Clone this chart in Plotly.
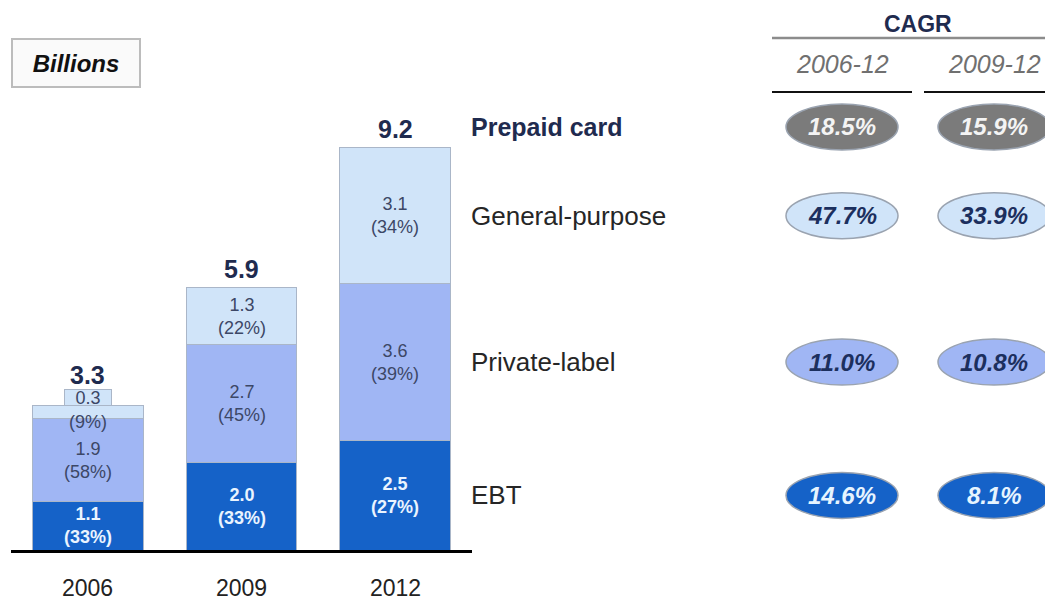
import plotly.graph_objects as go

# prepaid card volume, billions
years = ["2006", "2009", "2012"]
ebt = [1.1, 2.0, 2.5]
private_label = [1.9, 2.7, 3.6]
general_purpose = [0.3, 1.3, 3.1]
totals = [3.3, 5.9, 9.2]
ebt_pct = [33, 33, 27]
private_pct = [58, 45, 39]
general_pct = [9, 22, 34]

# CAGR table
rows = ["Prepaid card", "General-purpose", "Private-label", "EBT"]
cagr_06_12 = [18.5, 47.7, 11.0, 14.6]
cagr_09_12 = [15.9, 33.9, 10.8, 8.1]
periods = ["2006-12", "2009-12"]

# the page body adds an 8px margin, so the figure is drawn 8px smaller
OFF = 8
W, H = 1053 - OFF, 605 - OFF


def px(x):
    return (x - OFF) / W


def py(y):
    return 1 - (y - OFF) / H


FONT = "Liberation Sans, Arial, sans-serif"
NAVY = "#1f2b4f"
C_EBT = "#1562c8"
C_PL = "#a0b6f4"
C_GP = "#d0e4f9"
C_TOT = "#7b7b7b"
UNIT = 43.7  # pixels per billion
BASE = 550   # baseline, reference pixels

fig = go.Figure()
series = [
    ("EBT", ebt, C_EBT),
    ("Private-label", private_label, C_PL),
    ("General-purpose", general_purpose, C_GP),
]
for name, vals, col in series:
    fig.add_trace(go.Bar(
        x=years, y=vals, name=name,
        marker=dict(color=col, line=dict(color="#aab6c8", width=1)),
        hoverinfo="skip",
    ))

annotations = []
shapes = []

# segment labels (x given as category index)
for i, yr in enumerate(years):
    base = 0
    for (name, vals, col), pcts in zip(series, [ebt_pct, private_pct, general_pct]):
        mid = base + vals[i] / 2
        if name == "EBT":
            txt = f"<b>{vals[i]:.1f}<br>({pcts[i]}%)</b>"
            fcol = "#eaf4ff"
        else:
            txt = f"{vals[i]:.1f}<br>({pcts[i]}%)"
            fcol = "#3c4766"
        if name == "General-purpose" and vals[i] < 0.5:
            # value too small for the bar: label in a small tab on top
            top = base + vals[i]
            annotations.append(dict(
                x=i, y=top, xref="x", yref="y", xanchor="center", yanchor="bottom",
                text=f"{vals[i]:.1f}", showarrow=False,
                font=dict(family=FONT, size=18, color=fcol),
                bgcolor=C_GP, bordercolor="#aab6c8", borderwidth=1,
                width=46, height=15, borderpad=0,
            ))
            annotations.append(dict(
                x=i, y=top, xref="x", yref="y", xanchor="center", yanchor="top",
                yshift=-4,
                text=f"({pcts[i]}%)", showarrow=False,
                font=dict(family=FONT, size=18, color=fcol),
            ))
        else:
            annotations.append(dict(
                x=i, y=mid, xref="x", yref="y", xanchor="center", yanchor="middle",
                text=txt, showarrow=False,
                font=dict(family=FONT, size=18, color=fcol),
            ))
        base += vals[i]
    annotations.append(dict(
        x=i, y=base, xref="x", yref="y", xanchor="center", yanchor="bottom",
        yshift=15 if i == 0 else 3,
        text=f"<b>{totals[i]:.1f}</b>", showarrow=False,
        font=dict(family=FONT, size=25, color=NAVY),
    ))

# category labels under the axis
for i, yr in enumerate(years):
    annotations.append(dict(
        x=i, y=py(588), xref="x", yref="paper", xanchor="center", yanchor="middle",
        text=yr, showarrow=False,
        font=dict(family=FONT, size=23, color="#222222"),
    ))

# row labels and CAGR ellipses, aligned with the 2012 segments
mids_2012 = []
b = 0
for vals in [ebt, private_label, general_purpose]:
    mids_2012.append(b + vals[2] / 2)
    b += vals[2]
row_y = [None, mids_2012[2], mids_2012[1], mids_2012[0]]
row_fill = [C_TOT, C_GP, C_PL, C_EBT]
row_text = ["#f4f4f4", "#1c2f5e", "#1c2f5e", "#e6f4ff"]
col_x = [px(842), px(994)]

for r, name in enumerate(rows):
    if r == 0:
        yref, yval = "paper", py(127)
    else:
        yref, yval = "y", row_y[r]
    label = f"<b>{name}</b>" if r == 0 else name
    annotations.append(dict(
        x=px(469), y=yval, xref="paper", yref=yref, xanchor="left", yanchor="middle",
        text=label, showarrow=False,
        font=dict(family=FONT, size=26 if r else 25, color=NAVY if r == 0 else "#262626"),
    ))
    for c, vals in enumerate([cagr_06_12, cagr_09_12]):
        shapes.append(dict(
            type="circle", xref="paper", yref=yref,
            xsizemode="pixel", ysizemode="pixel",
            xanchor=col_x[c], yanchor=yval,
            x0=-56, x1=56, y0=-23, y1=23,
            fillcolor=row_fill[r], line=dict(color="#9aa3b0", width=1.5),
            layer="below",
        ))
        annotations.append(dict(
            x=col_x[c], y=yval, xref="paper", yref=yref,
            xanchor="center", yanchor="middle",
            text=f"<b><i>{vals[r]:.1f}%</i></b>", showarrow=False,
            font=dict(family=FONT, size=24, color=row_text[r]),
        ))

# CAGR header
annotations.append(dict(
    x=px(918), y=py(24), xref="paper", yref="paper",
    xanchor="center", yanchor="middle",
    text="<b>CAGR</b>", showarrow=False,
    font=dict(family=FONT, size=23, color=NAVY),
))
for c, p in enumerate(periods):
    annotations.append(dict(
        x=col_x[c], y=py(64), xref="paper", yref="paper",
        xanchor="center", yanchor="middle",
        text=f"<i>{p}</i>", showarrow=False,
        font=dict(family=FONT, size=25, color="#707070"),
    ))
shapes.append(dict(type="line", xref="paper", yref="paper",
                   x0=px(772), x1=1, y0=py(38), y1=py(38),
                   line=dict(color="#8c8c8c", width=2.5)))
for x0, x1 in [(772, 912), (924, 1053)]:
    shapes.append(dict(type="line", xref="paper", yref="paper",
                       x0=px(x0), x1=px(x1), y0=py(92), y1=py(92),
                       line=dict(color="#111111", width=2)))

# units box
annotations.append(dict(
    x=px(76), y=py(63), xref="paper", yref="paper",
    xanchor="center", yanchor="middle",
    text="<b><i>Billions</i></b>", showarrow=False,
    font=dict(family=FONT, size=24, color="#111111"),
    bgcolor="#fafafa", bordercolor="#bcbcbc", borderwidth=2,
    width=124, height=44,
))

base_frac = (BASE - OFF) / H
fig.update_layout(
    barmode="stack",
    bargap=0.28,
    width=W, height=H,
    margin=dict(l=0, r=0, t=0, b=0),
    paper_bgcolor="white", plot_bgcolor="white",
    showlegend=False,
    font=dict(family=FONT),
    xaxis=dict(
        domain=[px(11), px(472)],
        type="category", range=[-0.5, 2.5],
        showline=True, linecolor="#000000", linewidth=3,
        showgrid=False, ticks="", showticklabels=False,
        fixedrange=True,
    ),
    yaxis=dict(
        domain=[1 - base_frac, 1],
        range=[0, (BASE - OFF) / UNIT],
        visible=False, showgrid=False, zeroline=False,
        fixedrange=True,
    ),
    annotations=annotations,
    shapes=shapes,
)

fig.write_html("out.html")
